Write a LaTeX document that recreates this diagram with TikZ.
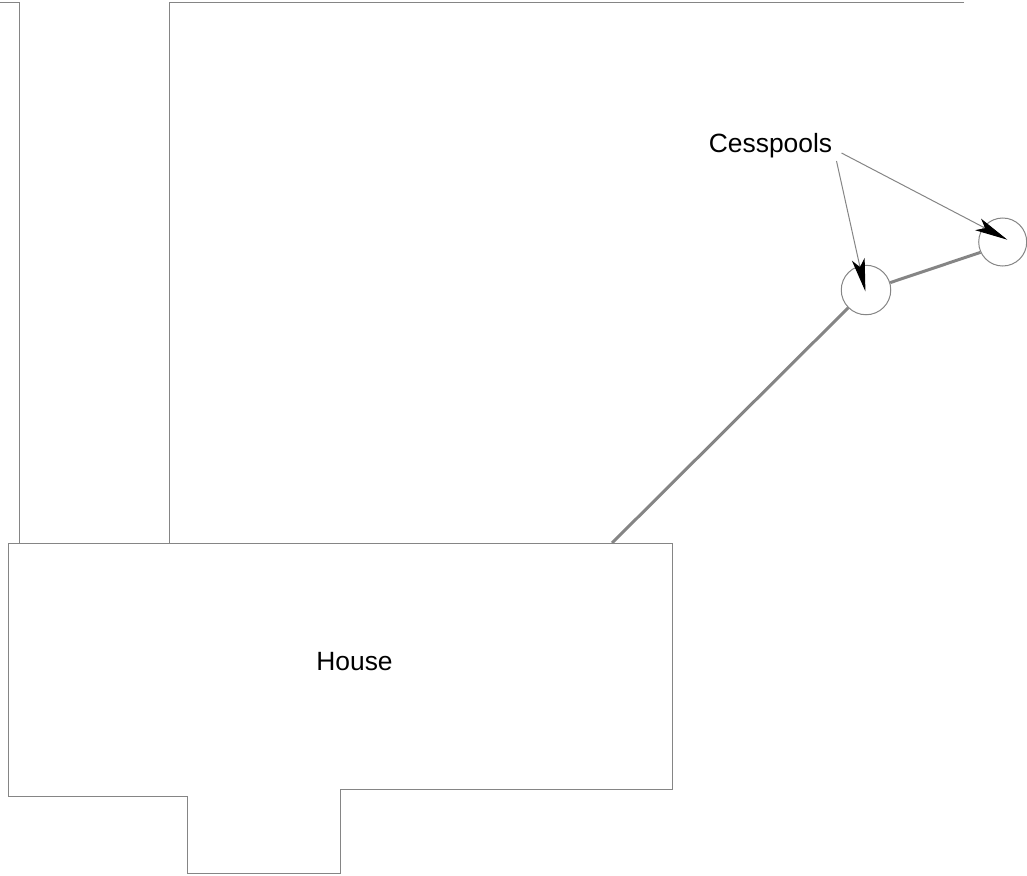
\documentclass[tikz,border=0pt]{standalone}
\usepackage{fontspec}
\setmainfont{Liberation Sans}
\usetikzlibrary{arrows.meta}
\definecolor{linegray}{gray}{0.52}
\tikzset{
  wall/.style={draw=linegray,line width=1pt,line join=miter},
  pipe/.style={draw=linegray,line width=3pt},
  pool/.style={circle,draw=linegray,line width=1pt,inner sep=0pt},
  leader/.style={draw=linegray,line width=1pt,-{Stealth[length=33pt,width=13pt,inset=8pt,color=black]}},
  label/.style={font=\fontsize{26.4pt}{30pt}\selectfont,text=black,inner sep=0pt}
}
\begin{document}
\begin{tikzpicture}[x=1pt,y=-1pt]
\useasboundingbox (0,0) rectangle (1027,875);
% fences
\draw[wall] (0,3) -- (19,3) -- (19,543);
\draw[wall] (964,3) -- (169,3) -- (169,543);
% house outline
\draw[wall] (8,543) -- (672,543) -- (672,789) -- (340,789) -- (340,873) -- (187,873) -- (187,796) -- (8,796) -- cycle;
\node[label] (house) at (354.5,662) {House};
\node[label] (cesspools) at (770.5,146) {Cesspools};
% cesspools
\node[pool,minimum size=49.5pt] (poolA) at (866,290) {};
\node[pool,minimum size=48pt] (poolB) at (1002.7,242) {};
% pipes
\coordinate (pipeStart) at (612,543);
\draw[pipe] (pipeStart) -- (poolA.225);
\draw[pipe] (poolA.17) -- (poolB.205);
% leaders
\coordinate (leadA) at (836.5,161);
\coordinate (leadB) at (841.5,153);
\coordinate (tipA) at (865.4,291.5);
\coordinate (tipB) at (1007.3,239.7);
\draw[leader] (leadA) -- (tipA);
\draw[leader] (leadB) -- (tipB);
\end{tikzpicture}
\end{document}
